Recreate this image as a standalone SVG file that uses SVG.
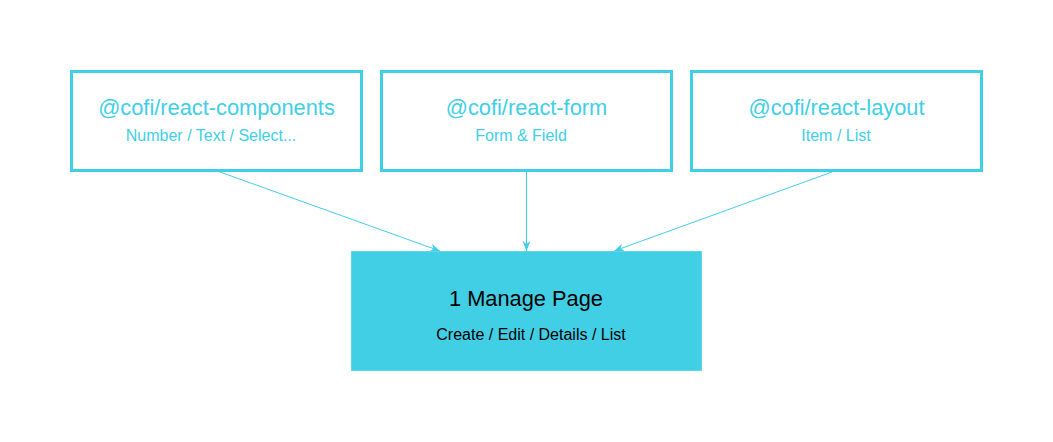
<svg xmlns="http://www.w3.org/2000/svg" width="1053" height="442" viewBox="0 0 1053 442">
<style>
.box{fill:#fff;stroke:#41cfe6;stroke-width:3}
.t{font-family:"Liberation Sans",Arial,sans-serif;fill:#41cfe6;text-anchor:middle}
.t1{font-size:21.8px}
.t2{font-size:16px}
.d{fill:#000}
.edge{stroke:#41cfe6;stroke-width:1;fill:none}
</style>
<defs>
<marker id="ah" viewBox="0 0 10 10" refX="10" refY="5" markerWidth="10" markerHeight="10" markerUnits="userSpaceOnUse" orient="auto">
<path d="M0,1 L10,5 L0,9 L3,5 Z" fill="#41cfe6"/>
</marker>
</defs>
<rect width="1053" height="442" fill="#fff"/>
<g id="connectors">
<line class="edge" x1="220" y1="172" x2="440" y2="251" marker-end="url(#ah)"/>
<line class="edge" x1="526.5" y1="172" x2="526.5" y2="251" marker-end="url(#ah)"/>
<line class="edge" x1="832" y1="172" x2="614" y2="251" marker-end="url(#ah)"/>
</g>
<g id="react-components">
<rect class="box" x="71.5" y="71.5" width="290" height="99"/>
<text class="t t1" x="216.5" y="115">@cofi/react-components</text>
<text class="t t2" x="211" y="141">Number / Text / Select...</text>
</g>
<g id="react-form">
<rect class="box" x="381.5" y="71.5" width="290" height="99"/>
<text class="t t1" x="526.5" y="115">@cofi/react-form</text>
<text class="t t2" x="521" y="141">Form &amp; Field</text>
</g>
<g id="react-layout">
<rect class="box" x="691.5" y="71.5" width="290" height="99"/>
<text class="t t1" x="836.5" y="115">@cofi/react-layout</text>
<text class="t t2" x="836" y="141">Item / List</text>
</g>
<g id="manage-page">
<rect x="351.5" y="251.5" width="350" height="119" fill="#41cfe6" stroke="#5fd6ea" stroke-width="1"/>
<text class="t t1 d" x="526" y="306">1 Manage Page</text>
<text class="t t2 d" x="531" y="340">Create / Edit / Details / List</text>
</g>
</svg>
